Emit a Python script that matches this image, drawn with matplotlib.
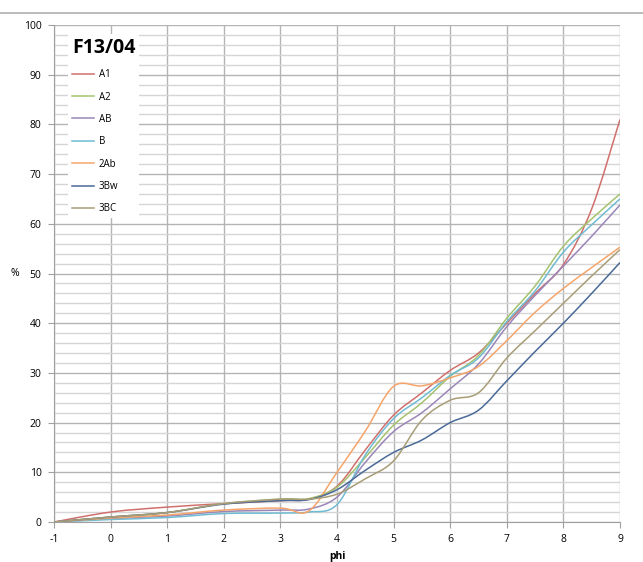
import matplotlib
matplotlib.use("Agg")
import matplotlib.pyplot as plt
from matplotlib.lines import Line2D
from matplotlib.patches import PathPatch
from matplotlib.path import Path
from matplotlib.ticker import MultipleLocator

# grain size classes (phi) and cumulative % per horizon
phi = [-1, 0, 1, 2, 3, 3.5, 4, 4.5, 5, 5.5, 6, 6.5, 7, 7.5, 8, 8.5, 9]

a1 = [0, 2.0, 3.0, 3.7, 4.3, 4.6, 7.2, 14.5, 21.5, 26.0, 30.5, 34.0, 40.0, 46.0, 51.8, 63.0, 81.0]
a2 = [0, 1.0, 1.9, 3.7, 4.6, 4.7, 7.0, 13.0, 19.5, 24.0, 29.3, 33.5, 41.0, 47.5, 55.5, 61.0, 66.0]
ab = [0, 0.7, 1.2, 2.1, 2.4, 2.6, 5.0, 12.0, 18.2, 22.0, 26.8, 31.8, 39.3, 45.6, 51.5, 57.5, 63.8]
b = [0, 0.5, 0.9, 1.7, 1.8, 2.0, 3.5, 13.5, 20.8, 25.0, 29.5, 33.0, 40.3, 46.5, 54.3, 59.8, 65.0]
ab2 = [0, 0.8, 1.4, 2.4, 2.8, 2.2, 10.0, 18.3, 27.3, 27.4, 29.0, 31.3, 36.5, 42.2, 47.0, 51.2, 55.3]
bw3 = [0, 1.0, 1.9, 3.6, 4.3, 4.5, 6.5, 10.4, 14.0, 16.5, 20.0, 22.5, 28.4, 34.3, 40.0, 46.0, 52.2]
bc3 = [0, 1.0, 1.9, 3.7, 4.6, 4.6, 5.6, 8.7, 12.3, 20.5, 24.5, 26.0, 33.0, 38.5, 44.0, 49.5, 54.8]

labels = ["A1", "A2", "AB", "B", "2Ab", "3Bw", "3BC"]
series = [a1, a2, ab, b, ab2, bw3, bc3]
colors = ["#D0706C", "#A5C26F", "#9A86B8", "#6FBBD3", "#F5A56A", "#4A6A98", "#A89D77"]

plt.rcParams["font.family"] = ["Open Sans", "DejaVu Sans"]
plt.rcParams["axes.unicode_minus"] = False


def smooth_path(x, y):
    # Excel-style smoothed line: cubic Bezier through the points (Catmull-Rom control points)
    n = len(x)
    verts = [(x[0], y[0])]
    codes = [Path.MOVETO]
    for i in range(n - 1):
        i0 = max(i - 1, 0)
        i3 = min(i + 2, n - 1)
        c1 = (x[i] + (x[i + 1] - x[i0]) / 6, y[i] + (y[i + 1] - y[i0]) / 6)
        c2 = (x[i + 1] - (x[i3] - x[i]) / 6, y[i + 1] - (y[i3] - y[i]) / 6)
        verts += [c1, c2, (x[i + 1], y[i + 1])]
        codes += [Path.CURVE4] * 3
    return Path(verts, codes)


fig = plt.figure(figsize=(6.43, 5.62), dpi=100)
ax = fig.add_axes([54 / 643, 1 - 522 / 562, (620 - 54) / 643, (522 - 25) / 562])

for vals, col in zip(series, colors):
    ax.add_patch(PathPatch(smooth_path(phi, vals), facecolor="none",
                           edgecolor=col, lw=1.1, zorder=3))

ax.set_xlim(-1, 9)
ax.set_ylim(0, 100)
ax.xaxis.set_major_locator(MultipleLocator(1))
ax.yaxis.set_major_locator(MultipleLocator(10))
ax.yaxis.set_minor_locator(MultipleLocator(2))
ax.grid(which="major", color="#B4B4B4", lw=1.0)
ax.grid(which="minor", axis="y", color="#D6D6D6", lw=1.0)
ax.set_axisbelow(True)
ax.tick_params(which="major", labelsize=7.5, length=4, color="#A0A0A0", pad=5)
ax.tick_params(which="minor", length=0)
for side in ["top", "right"]:
    ax.spines[side].set_visible(False)
for side in ["left", "bottom"]:
    ax.spines[side].set_color("#A0A0A0")

ax.set_xlabel("phi", fontsize=7.5, fontweight="bold", labelpad=4)
ax.set_ylabel("%", fontsize=7.5, rotation=0, va="center", ha="center")
ax.yaxis.set_label_coords(-39 / 566, 0.5)

handles = [Line2D([], [], color=c, lw=1.1) for c in colors]
leg = ax.legend(handles, labels, title="F13/04", loc="upper left",
                bbox_to_anchor=(9 / 566, 1 - 4 / 497), fontsize=7,
                labelspacing=1.17, handlelength=2.3, handletextpad=0.5,
                frameon=True, fancybox=False, borderpad=0.4)
leg.get_frame().set_edgecolor("none")
leg.get_frame().set_facecolor("white")
leg.get_frame().set_alpha(1)
leg.get_title().set_fontsize(14)
leg.get_title().set_fontweight("bold")
leg._legend_box.align = "left"

# top border of the chart area
fig.add_artist(Line2D([0, 1], [1 - 13 / 562, 1 - 13 / 562], color="#B0B0B0", lw=1.2))

fig.savefig("out.png", dpi=100)
